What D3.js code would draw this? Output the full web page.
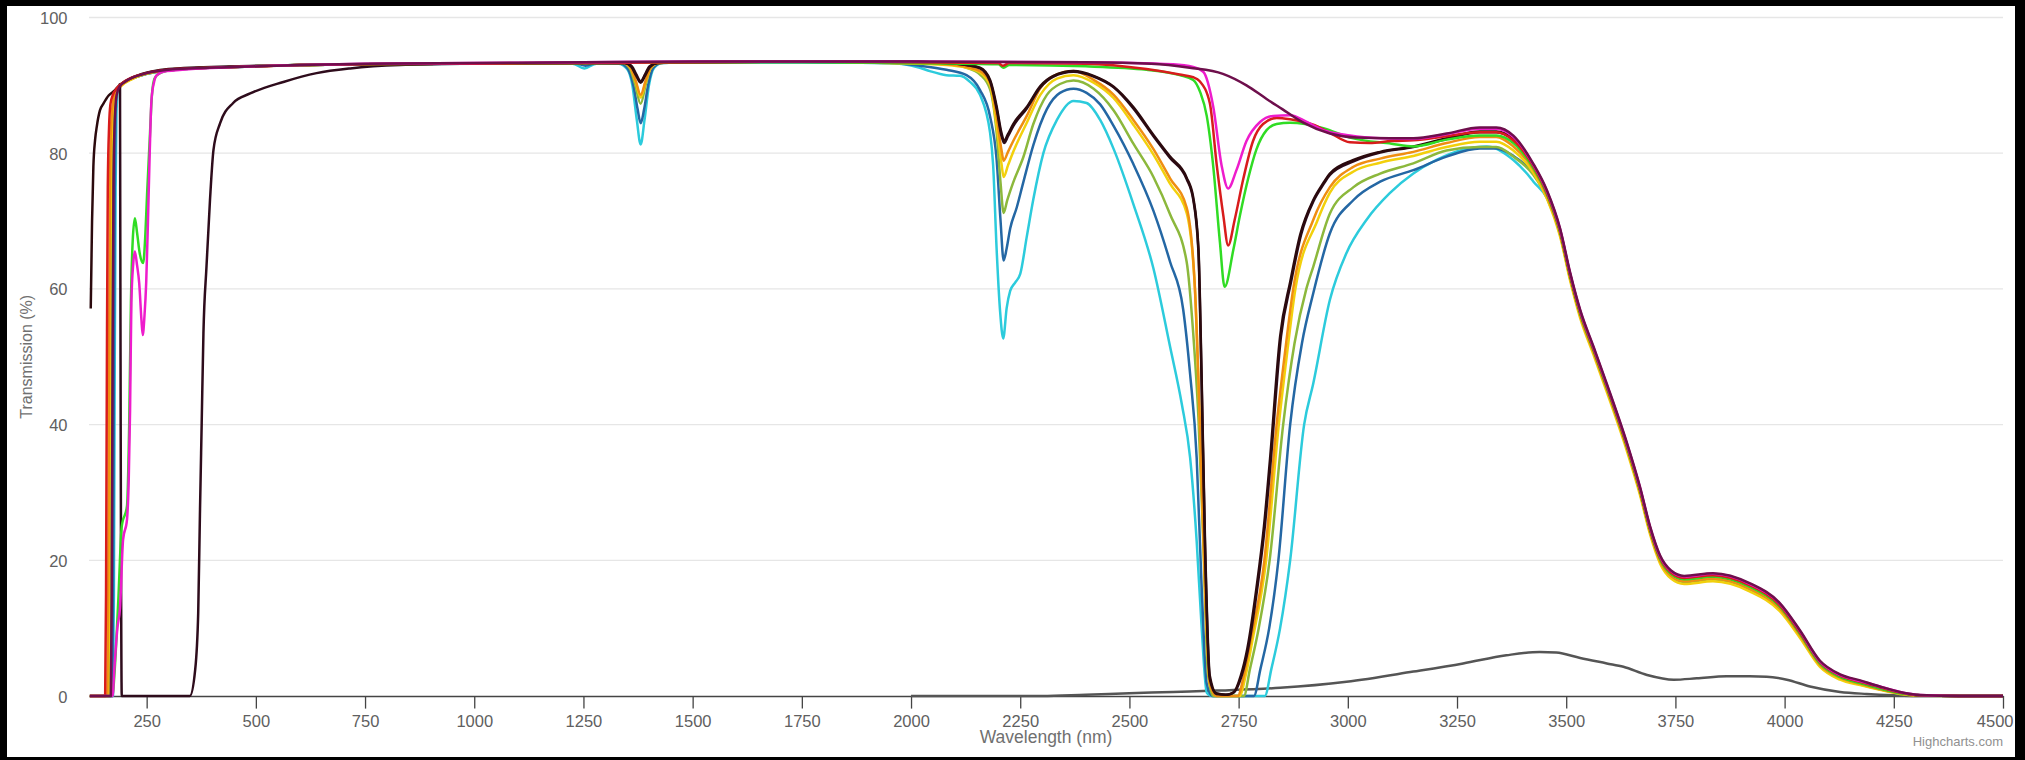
<!DOCTYPE html>
<html>
<head>
<meta charset="utf-8">
<script src="https://cdn.jsdelivr.net/npm/d3@7"></script>
<style>
  body { margin: 0; background: #000; }
  svg { display: block; }
  text { font-family: "Liberation Sans", Arial, sans-serif; }
</style>
</head>
<body>
<svg id="transmission_chart"></svg>
<script>
// axis ticks
const xTicks = [250, 500, 750, 1000, 1250, 1500, 1750, 2000, 2250, 2500, 2750, 3000, 3250, 3500, 3750, 4000, 4250, 4500];
const yTicks = [0, 20, 40, 60, 80, 100];

// series: [wavelength nm, transmission %]
const darkA = [[122,57.1],[125,70],[128,78],[132,82],[136,84],[143,86.3],[151,87.3],[163,88.5],[174,89.1],[189,90.1],[219,91.2],[265,92.1],[300,92.4],[450,92.8],[600,93.0],[750,93.1],[1000,93.2],[1250,93.3],[1345,93.3],[1360,92.7],[1371,91.4],[1381,90.4],[1391,91.4],[1402,92.7],[1420,93.3],[1500,93.4],[1750,93.5],[1950,93.5],[2081,93.3],[2127,93.0],[2158,92.6],[2181,90.8],[2196,86.9],[2207,83.0],[2213,81.8],[2222,82.8],[2234,84.3],[2265,86.8],[2296,89.9],[2326,91.4],[2372,92.1],[2418,91.4],[2464,89.8],[2509,86.8],[2555,82.7],[2593,79.5],[2631,76.4],[2646,73.5],[2658,66],[2665,48],[2673,23],[2684,3],[2699,0.4],[2720,0.2],[2738,0.5],[2755,3],[2770,7],[2791,16],[2808,25],[2822,35],[2845,53],[2868,61],[2891,68],[2921,73.1],[2944,75.6],[2959,77],[3013,79],[3074,80.2],[3150,81],[3226,82.2],[3302,83.2],[3340,83.2],[3379,82],[3425,78],[3456,74.1],[3486,68.5],[3509,62],[3532,56.5],[3563,51],[3593,45.6],[3639,36.9],[3669,30.4],[3692,24.6],[3715,20.3],[3740,18.1],[3770,17.3],[3836,17.7],[3921,16.2],[3989,13.3],[4035,9.3],[4081,4.9],[4127,2.9],[4173,2.0],[4218,1.2],[4264,0.5],[4310,0.1],[4400,0],[4500,0]];

const dark350 = [[189,90.3],[193,0],[349,0],[361,3.8],[368,12.2],[372,26.9],[376,40.2],[380,53.5],[387,63.3],[395,73.1],[403,80.5],[418,84.4],[448,87.4],[487,88.8],[563,90.5],[639,91.8],[716,92.5],[830,93.0],[1000,93.2],[1250,93.3],[1345,93.3],[1361,92.8],[1371,91.6],[1381,90.6],[1391,91.6],[1401,92.8],[1420,93.3],[1500,93.4],[1750,93.5],[1950,93.5],[2081,93.3],[2127,93.0],[2158,92.5],[2181,90.6],[2196,86.5],[2207,82.6],[2213,81.5],[2222,82.5],[2234,84],[2265,86.6],[2296,89.7],[2326,91.3],[2372,92.0],[2418,91.3],[2464,89.7],[2509,86.6],[2555,82.5],[2593,79.3],[2631,76.2],[2646,73.2],[2658,65.5],[2665,47],[2673,22],[2684,2.5],[2699,0.3],[2725,0.2],[2740,0.6],[2757,3],[2772,7],[2793,16],[2810,25],[2824,35],[2847,53],[2870,61],[2893,68],[2921,72.9],[2944,75.4],[2959,76.8],[3013,78.8],[3074,80.1],[3150,80.9],[3226,82.1],[3302,83.1],[3340,83.1],[3379,82.0],[3425,78.1],[3456,74.2],[3486,68.6],[3509,62.1],[3532,56.6],[3563,51.1],[3593,45.7],[3639,37],[3669,30.5],[3692,24.7],[3715,20.4],[3740,18.2],[3770,17.4],[3836,17.8],[3921,16.3],[3989,13.4],[4035,9.4],[4081,5.0],[4127,3.0],[4173,2.1],[4218,1.3],[4264,0.5],[4310,0.1],[4400,0],[4500,0]];

const orange = [[120,0],[160,0],[162,15],[164,50],[166,75],[169,84.5],[173,87.5],[178,88.8],[189,89.8],[219,91.1],[265,92.0],[300,92.3],[450,92.7],[600,93.0],[750,93.1],[1000,93.2],[1250,93.3],[1342,93.3],[1358,92.6],[1370,90.6],[1381,88.6],[1392,90.6],[1404,92.6],[1420,93.3],[1500,93.4],[1750,93.5],[1950,93.4],[2081,93.1],[2127,92.7],[2158,92.1],[2181,90.4],[2196,85.4],[2207,80.5],[2212,78.9],[2222,80.2],[2234,81.8],[2265,85.5],[2296,89.6],[2334,91.6],[2372,92.1],[2418,90.8],[2464,88.6],[2509,84.9],[2555,80.6],[2593,76.3],[2631,72],[2650,60],[2661,41],[2673,16.6],[2684,1.8],[2699,0],[2748,0],[2762,3],[2777,8],[2809,20],[2837,40],[2855,50],[2875,60],[2921,70.2],[2959,75],[3013,78],[3074,79.2],[3150,80.2],[3226,81.5],[3302,82.4],[3340,82.4],[3379,81],[3425,77.6],[3456,73.7],[3486,68.1],[3509,61.6],[3532,56.1],[3563,50.6],[3593,45.2],[3639,36.5],[3669,30],[3692,24.2],[3715,19.9],[3740,17.7],[3770,16.9],[3836,17.3],[3921,15.8],[3989,12.9],[4035,9.0],[4081,4.6],[4127,2.7],[4173,1.8],[4218,1.0],[4264,0.4],[4310,0.1],[4400,0],[4500,0]];

const yellow = [[120,0],[162,0],[164,15],[166,50],[168,75],[171,84.5],[175,87.5],[180,88.9],[190,89.8],[219,91.0],[265,92.0],[300,92.3],[450,92.7],[600,93.0],[750,93.1],[1000,93.2],[1250,93.3],[1342,93.3],[1358,92.5],[1370,90.4],[1381,88.2],[1392,90.4],[1404,92.5],[1422,93.3],[1500,93.4],[1750,93.5],[1950,93.3],[2081,93.0],[2127,92.6],[2158,91.9],[2181,90.0],[2196,84.0],[2207,78.5],[2212,76.5],[2222,78.2],[2234,80.2],[2265,84.5],[2296,88.6],[2334,91.0],[2372,91.5],[2418,90.4],[2464,88.1],[2509,84.2],[2555,79.8],[2593,75.5],[2631,71.2],[2650,60],[2661,40],[2673,16],[2684,1.8],[2699,0],[2752,0],[2766,3],[2781,8],[2813,20],[2842,40],[2860,50],[2880,60],[2930,70],[2959,74.2],[3013,77.3],[3074,78.6],[3150,79.6],[3226,80.9],[3302,81.7],[3340,81.7],[3379,80.4],[3425,77.1],[3456,73.3],[3486,67.7],[3509,61.2],[3532,55.7],[3563,50.2],[3593,44.8],[3639,36.1],[3669,29.6],[3692,23.8],[3715,19.5],[3740,17.3],[3770,16.5],[3836,16.9],[3921,15.4],[3989,12.5],[4035,8.6],[4081,4.3],[4127,2.4],[4173,1.6],[4218,0.9],[4264,0.3],[4310,0.05],[4400,0],[4500,0]];

const olive = [[120,0],[165,0],[167,15],[169,50],[171,75],[174,85],[178,88],[185,89.6],[200,90.4],[250,91.7],[300,92.2],[450,92.7],[600,93.0],[750,93.1],[1000,93.2],[1250,93.3],[1340,93.3],[1356,92.5],[1368,90.2],[1381,87.3],[1393,90.2],[1404,92.5],[1422,93.3],[1500,93.4],[1750,93.5],[1950,93.3],[2081,93.1],[2127,92.6],[2158,91.6],[2181,89.4],[2196,83],[2205,75.6],[2212,71.2],[2220,73],[2234,75.7],[2257,79.4],[2280,84.3],[2311,88.6],[2341,90.2],[2372,90.7],[2418,89.5],[2464,86.3],[2509,81.4],[2555,76.5],[2593,71],[2631,64],[2646,53.5],[2658,41],[2669,22.8],[2680,3.1],[2692,0],[2762,0],[2776,4],[2796,10],[2821,20],[2852,40],[2878,52],[2905,60],[2921,63.3],[2959,71.1],[3013,75],[3074,77],[3150,78.5],[3226,80.4],[3302,80.9],[3340,80.9],[3379,79.5],[3425,76.8],[3456,73.4],[3486,68.0],[3509,61.5],[3532,56],[3563,50.5],[3593,45.1],[3639,36.4],[3669,29.9],[3692,24.1],[3715,19.8],[3740,17.6],[3770,16.8],[3836,17.2],[3921,15.7],[3989,12.8],[4035,8.9],[4081,4.5],[4127,2.6],[4173,1.7],[4218,1.0],[4264,0.4],[4310,0.1],[4400,0],[4500,0]];

const blue = [[120,0],[171,0],[173,15],[175,50],[177,75],[179,86],[182,89],[190,90],[210,90.8],[250,91.7],[300,92.2],[450,92.7],[600,93.0],[750,93.1],[1000,93.2],[1230,93.3],[1255,92.9],[1280,93.3],[1335,93.2],[1352,92.4],[1365,89.8],[1374,86.5],[1381,84.4],[1389,86.5],[1398,90],[1410,92.6],[1428,93.3],[1500,93.4],[1750,93.4],[1950,93.3],[2020,92.9],[2081,92.3],[2127,91.5],[2158,89.3],[2181,85.4],[2196,79],[2205,70],[2212,64.2],[2219,66],[2227,68.9],[2242,72],[2257,75.7],[2280,81.2],[2311,86.5],[2341,88.9],[2372,89.5],[2402,88.9],[2433,87.2],[2464,84],[2509,78.4],[2555,71.5],[2593,64],[2623,57],[2639,47.4],[2654,35.1],[2665,16.6],[2677,1.8],[2690,0],[2785,0],[2800,4],[2820,10],[2841,20],[2868,40],[2895,52],[2921,59.4],[2959,68.2],[3013,73.1],[3074,75.8],[3150,77.5],[3226,79.5],[3302,80.7],[3340,80.7],[3379,79.6],[3425,77],[3456,73.6],[3486,68.2],[3509,61.7],[3532,56.2],[3563,50.7],[3593,45.3],[3639,36.6],[3669,30.1],[3692,24.3],[3715,20.0],[3740,17.8],[3770,17.0],[3836,17.4],[3921,15.9],[3989,13.0],[4035,9.1],[4081,4.7],[4127,2.7],[4173,1.8],[4218,1.1],[4264,0.4],[4310,0.1],[4400,0],[4500,0]];

const cyan = [[120,0],[173,0],[175,15],[177,50],[179,75],[181,86],[184,89.2],[192,90.1],[210,90.8],[250,91.7],[300,92.2],[450,92.7],[600,93.0],[750,93.1],[1000,93.2],[1225,93.2],[1252,92.5],[1280,93.2],[1330,93.2],[1350,92.4],[1362,90],[1372,85],[1381,81.3],[1390,85],[1400,90],[1412,92.6],[1430,93.3],[1500,93.4],[1750,93.4],[1950,93.3],[2020,92.6],[2043,92.1],[2081,91.5],[2112,91.4],[2135,90.5],[2158,88.6],[2181,83],[2188,78.2],[2196,65.8],[2204,56.6],[2211,52.7],[2219,57.2],[2227,59.7],[2238,60.9],[2250,62.2],[2265,67.7],[2280,73.2],[2303,80],[2334,84.9],[2372,87.7],[2402,87.4],[2433,84.9],[2464,80.6],[2509,72.5],[2555,63],[2593,51.5],[2620,43],[2639,35.1],[2654,22.8],[2665,10.5],[2677,0.5],[2690,0],[2810,0],[2825,4],[2845,10],[2868,20],[2900,40],[2921,46.1],[2959,58.4],[2997,65.3],[3043,70.2],[3096,74.1],[3150,77],[3203,79],[3264,80.5],[3318,81],[3379,79],[3410,77],[3425,75.8],[3456,73.4],[3486,68.3],[3509,61.8],[3532,56.3],[3563,50.8],[3593,45.4],[3639,36.7],[3669,30.2],[3692,24.4],[3715,20.1],[3740,17.9],[3770,17.2],[3836,17.8],[3921,16.0],[3989,13.1],[4035,9.2],[4081,4.8],[4127,2.8],[4173,1.9],[4218,1.1],[4264,0.4],[4310,0.1],[4400,0],[4500,0]];

const red = [[120,0],[155,0],[157,15],[159,50],[161,75],[164,84],[167,87.2],[172,88.5],[182,89.6],[200,90.6],[250,91.8],[300,92.3],[450,92.7],[600,93.0],[750,93.1],[1000,93.2],[1250,93.3],[1500,93.4],[1750,93.5],[2000,93.4],[2200,93.3],[2210,92.9],[2225,93.3],[2400,93.2],[2539,92.4],[2615,91.6],[2646,91.2],[2661,90.6],[2684,87.4],[2700,78.2],[2715,70.8],[2726,66.4],[2741,70.2],[2761,76.3],[2783,81.8],[2806,84.3],[2837,85.2],[2868,85],[2921,84.2],[2959,83],[3005,81.6],[3050,81.5],[3100,81.8],[3150,81.9],[3226,82.5],[3302,83.1],[3340,83.1],[3379,81.9],[3425,78.1],[3456,74.2],[3486,68.6],[3509,62.1],[3532,56.6],[3563,51.1],[3593,45.7],[3639,37],[3669,30.5],[3692,24.7],[3715,20.4],[3740,18.2],[3770,17.4],[3836,17.8],[3921,16.3],[3989,13.4],[4035,9.4],[4081,5.0],[4127,3.0],[4173,2.1],[4218,1.3],[4264,0.5],[4310,0.1],[4400,0],[4500,0]];

const lime = [[120,0],[172,0],[176,3],[185,14],[193,25],[205,28],[210,40],[214,58],[218,67],[223,70.4],[228,68.3],[234,65.3],[242,63.8],[247,68],[251,74],[257,82],[262,88.5],[268,91],[280,91.8],[300,92.2],[450,92.7],[600,93.0],[750,93.1],[1000,93.2],[1250,93.3],[1500,93.4],[1750,93.4],[2000,93.3],[2200,93.1],[2212,92.6],[2225,93.0],[2400,92.8],[2539,92.3],[2615,91.5],[2646,90.8],[2662,89],[2677,85.5],[2692,78],[2707,67],[2718,60.3],[2738,65.8],[2753,70.8],[2772,76.3],[2791,80.6],[2814,83.4],[2837,84.3],[2868,84.5],[2944,83.7],[3005,82.3],[3100,81.4],[3150,81.0],[3226,82.0],[3302,82.6],[3340,82.6],[3379,81.5],[3425,77.8],[3456,74.0],[3486,68.4],[3509,61.9],[3532,56.4],[3563,50.9],[3593,45.5],[3639,36.8],[3669,30.3],[3692,24.5],[3715,20.2],[3740,18.0],[3770,17.2],[3836,17.6],[3921,16.1],[3989,13.2],[4035,9.2],[4081,4.8],[4127,2.8],[4173,1.9],[4218,1.1],[4264,0.4],[4310,0.1],[4400,0],[4500,0]];

const magenta = [[120,0],[172,0],[176,4],[183,10],[189,13],[196,23],[205,26],[209,32],[212,42],[215,58],[219,63.5],[223,65.5],[228,63.5],[233,60.8],[238,55.5],[241,53.2],[245,56],[249,61],[253,70],[257,80],[261,87.8],[267,90.5],[273,91.5],[296,92.1],[450,92.7],[600,93.0],[750,93.2],[1000,93.3],[1250,93.4],[1500,93.5],[1750,93.5],[2000,93.5],[2400,93.4],[2600,93.1],[2646,92.7],[2669,92],[2692,86.8],[2711,78.2],[2726,74.8],[2745,77.5],[2768,81.8],[2799,84.6],[2829,85.5],[2868,85.6],[2906,84.6],[2944,83.4],[3005,82.6],[3074,82.2],[3150,82.1],[3226,82.8],[3302,83.6],[3340,83.6],[3379,82.4],[3425,78.3],[3456,74.4],[3486,68.8],[3509,62.3],[3532,56.8],[3563,51.3],[3593,45.9],[3639,37.2],[3669,30.7],[3692,24.9],[3715,20.6],[3740,18.4],[3770,17.6],[3836,18.0],[3921,16.5],[3989,13.6],[4035,9.6],[4081,5.1],[4127,3.1],[4173,2.2],[4218,1.4],[4264,0.6],[4310,0.15],[4400,0],[4500,0]];

const maroon = [[120,0],[168,0],[170,15],[172,50],[174,75],[177,85],[181,88.5],[188,89.8],[200,90.5],[250,91.8],[300,92.3],[450,92.7],[600,93.0],[750,93.2],[1000,93.3],[1250,93.4],[1500,93.5],[1750,93.5],[2000,93.5],[2400,93.4],[2550,93.2],[2638,92.6],[2714,91.7],[2768,90],[2814,88],[2850,86.5],[2898,84.5],[2959,82.9],[3020,82.3],[3096,82.2],[3150,82.2],[3226,82.9],[3302,83.8],[3340,83.8],[3379,82.6],[3425,78.4],[3456,74.5],[3486,68.9],[3509,62.4],[3532,56.9],[3563,51.4],[3593,46.0],[3639,37.3],[3669,30.8],[3692,25.0],[3715,20.7],[3740,18.5],[3770,17.7],[3836,18.1],[3921,16.6],[3989,13.7],[4035,9.7],[4081,5.2],[4127,3.2],[4173,2.3],[4218,1.4],[4264,0.6],[4310,0.15],[4400,0],[4500,0]];

const grayLow = [[2000,0],[2300,0],[2400,0.2],[2500,0.4],[2600,0.6],[2700,0.8],[2845,1.2],[2997,2.1],[3150,3.6],[3264,4.8],[3363,6.0],[3439,6.5],[3477,6.4],[3532,5.6],[3593,4.8],[3631,4.3],[3685,3.1],[3746,2.4],[3799,2.6],[3867,2.9],[3920,2.9],[3959,2.85],[4005,2.4],[4058,1.4],[4127,0.6],[4188,0.3],[4250,0.1],[4300,0],[4500,0]];

// draw order: later on top
const series = [
  { data: grayLow, color: "#555555" },
  { data: cyan, color: "#2ccbdc" },
  { data: blue, color: "#2467a4" },
  { data: olive, color: "#8cb83c" },
  { data: yellow, color: "#f2d00c" },
  { data: orange, color: "#ef8e12" },
  { data: dark350, color: "#2e0c1c" },
  { data: darkA, color: "#2b0a0e" },
  { data: lime, color: "#30dc24" },
  { data: red, color: "#d81c1c" },
  { data: magenta, color: "#ee1ccc" },
  { data: maroon, color: "#6e0f4c" }
];

const svg_width = 2025, svg_height = 760;
const plot = { left: 89, right: 2003, top: 17.5, bottom: 696 };

const svg = d3.select("#transmission_chart")
  .attr("width", svg_width)
  .attr("height", svg_height);

// screenshot frame
svg.append("rect").attr("width", svg_width).attr("height", svg_height).attr("fill", "#000");
svg.append("rect").attr("x", 7).attr("y", 6).attr("width", 2008).attr("height", 751).attr("fill", "#fff");

const x = d3.scaleLinear().domain([118, 4500]).range([plot.left, plot.right]);
const y = d3.scaleLinear().domain([0, 100]).range([plot.bottom, plot.top]);

// grid lines
svg.append("g")
  .selectAll("line")
  .data(yTicks.filter(d => d > 0))
  .join("line")
  .attr("x1", plot.left)
  .attr("x2", plot.right)
  .attr("y1", d => y(d))
  .attr("y2", d => y(d))
  .attr("stroke", "#e6e6e6")
  .attr("stroke-width", 1.3);

// y labels
svg.append("g")
  .selectAll("text")
  .data(yTicks)
  .join("text")
  .attr("x", 67.5)
  .attr("y", d => y(d) + 6.5)
  .attr("text-anchor", "end")
  .attr("font-size", "16.5px")
  .attr("fill", "#606060")
  .text(d => d);

// x axis
const xAxis = svg.append("g")
  .attr("transform", `translate(0, ${plot.bottom})`)
  .call(d3.axisBottom(x).tickValues(xTicks).tickFormat(d3.format("d"))
    .tickSize(12.6).tickPadding(6.7).tickSizeOuter(0));
xAxis.select(".domain").attr("stroke", "#444").attr("stroke-width", 1.3);
xAxis.selectAll(".tick line").attr("stroke", "#444").attr("stroke-width", 1.3);
xAxis.selectAll(".tick text")
  .attr("font-size", "16.5px")
  .attr("font-family", "Liberation Sans, Arial, sans-serif")
  .attr("fill", "#606060");
// last label is pulled inside the chart edge
xAxis.selectAll(".tick text")
  .filter(d => d === 4500)
  .attr("text-anchor", "end")
  .attr("x", 10);

// axis titles
svg.append("text")
  .attr("x", (plot.left + plot.right) / 2)
  .attr("y", 743)
  .attr("text-anchor", "middle")
  .attr("font-size", "17.5px")
  .attr("fill", "#707070")
  .text("Wavelength (nm)");

svg.append("text")
  .attr("transform", `translate(32, ${(plot.top + plot.bottom) / 2}) rotate(-90)`)
  .attr("text-anchor", "middle")
  .attr("font-size", "16px")
  .attr("fill", "#707070")
  .text("Transmission (%)");

// credits
svg.append("text")
  .attr("x", 2003)
  .attr("y", 746)
  .attr("text-anchor", "end")
  .attr("font-size", "13px")
  .attr("fill", "#909090")
  .text("Highcharts.com");

// lines
svg.append("clipPath").attr("id", "plot-clip")
  .append("rect")
  .attr("x", plot.left).attr("y", plot.top - 5)
  .attr("width", plot.right - plot.left).attr("height", plot.bottom - plot.top + 10);

const line = d3.line()
  .x(d => x(d[0]))
  .y(d => y(d[1]))
  .curve(d3.curveMonotoneX);

svg.append("g")
  .attr("clip-path", "url(#plot-clip)")
  .selectAll("path")
  .data(series)
  .join("path")
  .attr("fill", "none")
  .attr("stroke", d => d.color)
  .attr("stroke-width", 2.5)
  .attr("stroke-linejoin", "round")
  .attr("d", d => line(d.data));
</script>
</body>
</html>
